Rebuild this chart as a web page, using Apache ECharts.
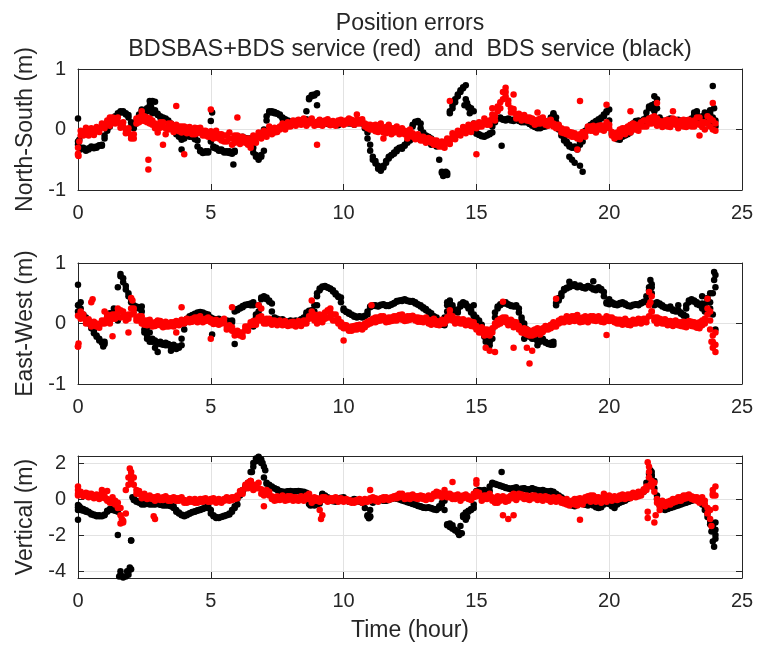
<!DOCTYPE html>
<html><head><meta charset="utf-8">
<script src="https://cdn.jsdelivr.net/npm/echarts@6/dist/echarts.min.js"></script>
<style>html,body{margin:0;padding:0;background:#fff}#c{width:758px;height:646px}</style>
</head><body><div id="c"></div>
<script>
// Sampling times (hours)
const hours = [
0,0.1,0.2,0.3,0.4,0.5,0.6,0.7,0.8,0.9,
1,1.1,1.2,1.3,1.4,1.5,1.6,1.7,1.8,1.9,
2,2.1,2.2,2.3,2.4,2.5,2.6,2.7,2.8,2.9,
3,3.1,3.2,3.3,3.4,3.5,3.6,3.7,3.8,3.9,
4,4.1,4.2,4.3,4.4,4.5,4.6,4.7,4.8,4.9,
5,5.1,5.2,5.3,5.4,5.5,5.6,5.7,5.8,5.9,
6,6.1,6.2,6.3,6.4,6.5,6.6,6.7,6.8,6.9,
7,7.1,7.2,7.3,7.4,7.5,7.6,7.7,7.8,7.9,
8,8.1,8.2,8.3,8.4,8.5,8.6,8.7,8.8,8.9,
9,9.1,9.2,9.3,9.4,9.5,9.6,9.7,9.8,9.9,
10,10.1,10.2,10.3,10.4,10.5,10.6,10.7,10.8,10.9,
11,11.1,11.2,11.3,11.4,11.5,11.6,11.7,11.8,11.9,
12,12.1,12.2,12.3,12.4,12.5,12.6,12.7,12.8,12.9,
13,13.1,13.2,13.3,13.4,13.5,13.6,13.7,13.8,13.9,
14,14.1,14.2,14.3,14.4,14.5,14.6,14.7,14.8,14.9,
15,15.1,15.2,15.3,15.4,15.5,15.6,15.7,15.8,15.9,
16,16.1,16.2,16.3,16.4,16.5,16.6,16.7,16.8,16.9,
17,17.1,17.2,17.3,17.4,17.5,17.6,17.7,17.8,17.9,
18,18.1,18.2,18.3,18.4,18.5,18.6,18.7,18.8,18.9,
19,19.1,19.2,19.3,19.4,19.5,19.6,19.7,19.8,19.9,
20,20.1,20.2,20.3,20.4,20.5,20.6,20.7,20.8,20.9,
21,21.1,21.2,21.3,21.4,21.5,21.6,21.7,21.8,21.9,
22,22.1,22.2,22.3,22.4,22.5,22.6,22.7,22.8,22.9,
23,23.1,23.2,23.3,23.4,23.5,23.6,23.7,23.8,23.9,
24];

// ---------- North-South errors (m) ----------
const nsBlack = [
-0.2,-0.3,-0.32,-0.33,-0.31,-0.3,-0.29,-0.28,-0.27,-0.25,
-0.1,-0.02,0.05,0.12,0.2,0.25,0.28,0.3,0.27,0.24,
0.12,0.02,0.1,0.22,0.3,0.28,0.35,0.4,0.3,0.32,
0.26,0.22,0.2,0.17,0.15,0.05,-0.02,-0.05,-0.1,-0.17,
-0.15,-0.08,-0.12,-0.1,-0.14,-0.18,-0.36,-0.37,-0.38,-0.36,
-0.1,-0.28,-0.3,-0.33,-0.35,-0.36,-0.38,-0.36,-0.4,-0.37,
-0.2,-0.15,-0.12,-0.14,-0.17,-0.15,-0.3,-0.42,-0.48,-0.45,
-0.35,0.15,0.28,0.3,0.29,0.27,0.25,0.2,0.17,0.15,
0.13,0.12,0.14,0.12,0.13,0.15,0.17,0.5,0.55,0.58,
0.6,0.15,0.12,0.14,0.1,0.08,0.12,0.1,0.07,0.1,
0.12,0.14,0.1,0.12,0.08,0.13,0.15,0.12,0.08,-0.05,
-0.25,-0.45,-0.52,-0.6,-0.68,-0.63,-0.55,-0.48,-0.43,-0.4,
-0.36,-0.3,-0.32,-0.27,-0.22,-0.18,0.05,0.12,0.14,0.1,
-0.05,-0.1,-0.12,-0.15,-0.2,-0.22,-0.25,-0.7,-0.73,-0.75,
0.27,0.35,0.45,0.55,0.62,0.68,0.73,0.38,0.35,0.3,
-0.05,-0.08,-0.1,-0.12,-0.1,-0.08,-0.05,0.12,0.18,0.2,
0.17,0.15,0.18,0.16,0.14,0.17,0.15,0.13,0.12,0.14,
0.1,0.08,0.05,0.03,0.02,0.04,0.05,0.08,0.15,0.27,
0.2,0.05,-0.05,-0.15,-0.2,-0.25,-0.3,-0.28,-0.33,-0.25,
-0.2,-0.05,0.02,0.05,0.1,0.12,0.15,0.18,0.22,0.28,
0.33,-0.05,-0.1,-0.15,-0.17,-0.12,-0.1,-0.08,-0.05,0.08,
0.12,0.15,0.1,0.14,0.2,0.35,0.4,0.3,0.5,0.2,
0.15,0.12,0.15,0.18,0.1,0.12,0.16,0.1,0.13,0.15,
0.12,0.1,0.25,0.3,0.2,0.15,0.28,0.1,0.32,0.2,
0.05];
const nsBlack2 = [
-0.25,-0.33,-0.3,-0.35,-0.33,-0.28,-0.31,-0.3,-0.26,-0.27,
-0.15,0.0,0.08,0.15,0.22,0.27,0.3,0.28,0.25,0.2,
0.05,0.06,0.15,0.25,0.33,0.24,0.3,0.35,0.27,0.28,
0.24,0.2,0.18,0.18,0.12,0.1,0.0,-0.08,-0.12,-0.15,
-0.12,-0.1,-0.1,-0.12,-0.16,-0.28,-0.34,-0.39,-0.36,-0.38,
-0.2,-0.3,-0.32,-0.35,-0.33,-0.38,-0.36,-0.39,-0.38,-0.35,
-0.17,-0.13,-0.14,-0.16,-0.15,-0.22,-0.38,-0.45,-0.5,-0.42,
0.0,0.22,0.3,0.28,0.27,0.26,0.23,0.18,0.16,0.14,
0.12,0.13,0.12,0.14,0.15,0.16,0.3,0.52,0.57,0.56,
0.4,0.13,0.13,0.12,0.09,0.1,0.11,0.08,0.09,0.11,
0.13,0.12,0.11,0.1,0.1,0.14,0.13,0.1,0.02,-0.15,
-0.35,-0.5,-0.56,-0.65,-0.66,-0.6,-0.52,-0.45,-0.42,-0.38,
-0.33,-0.31,-0.29,-0.25,-0.2,-0.1,0.08,0.13,0.12,0.02,
-0.08,-0.11,-0.14,-0.18,-0.21,-0.24,-0.5,-0.72,-0.74,-0.72,
0.3,0.4,0.5,0.58,0.65,0.7,0.5,0.36,0.32,0.1,
-0.07,-0.09,-0.11,-0.11,-0.09,-0.06,0.05,0.15,0.19,0.18,
0.16,0.17,0.17,0.15,0.16,0.16,0.14,0.12,0.13,0.12,
0.09,0.06,0.04,0.02,0.03,0.05,0.06,0.12,0.2,0.25,
0.12,0.0,-0.1,-0.18,-0.23,-0.28,-0.29,-0.3,-0.3,-0.22,
-0.12,-0.02,0.04,0.08,0.11,0.14,0.17,0.2,0.25,0.3,
0.15,-0.08,-0.12,-0.16,-0.15,-0.11,-0.09,-0.06,0.02,0.1,
0.14,0.12,0.12,0.17,0.28,0.38,0.35,0.42,0.35,0.17,
0.13,0.14,0.16,0.14,0.11,0.14,0.13,0.12,0.14,0.13,
0.11,0.18,0.28,0.25,0.18,0.22,0.2,0.25,0.26,0.1,
0.15];
const nsBlackExtra = [[0,0.18],[0.05,-0.17],[2.7,0.47],[2.8,0.47],[2.9,0.46],[2.75,0.38],[3.9,-0.33],[5.0,0.14],[5.05,0.28],
[5.85,-0.58],[13.75,-0.77],[13.85,-0.7],[13.5,-0.28],[13.3,-0.25],[14.55,0.4],[14.65,0.44],[14.75,0.27],[15.95,-0.27],
[18.5,-0.45],[18.6,-0.5],[18.7,-0.55],[18.9,-0.6],[19.0,-0.7],[21.7,0.55],[23.8,0.3],[23.9,0.72],[23.95,0.35]];
const nsRed = [
-0.3,-0.1,-0.05,-0.02,-0.05,-0.03,-0.05,0.0,0.02,0.05,
0.08,0.1,0.12,0.15,0.18,0.12,0.1,0.05,0.0,-0.05,
-0.1,-0.15,0.1,0.2,0.15,0.22,0.12,0.18,0.08,0.1,
-0.05,0.12,0.05,-0.08,0.1,0.02,0.05,0.0,-0.03,0.05,
-0.02,0.03,-0.05,0.0,-0.08,0.02,-0.05,-0.02,-0.1,-0.05,
-0.12,-0.05,-0.1,-0.15,-0.08,-0.2,-0.1,-0.15,-0.25,-0.1,
-0.18,-0.12,-0.2,-0.22,-0.15,-0.25,-0.18,-0.15,-0.12,-0.08,
-0.1,-0.05,-0.02,0.0,-0.05,0.02,0.05,0.03,0.08,0.05,
0.1,0.08,0.12,0.1,0.14,0.12,0.1,0.15,0.12,0.1,
0.13,0.08,0.12,0.15,0.1,0.13,0.08,0.12,0.15,0.1,
0.14,0.1,0.12,0.16,0.13,0.1,0.15,0.12,0.05,0.02,
0.08,0.0,-0.03,0.05,0.02,-0.05,0.04,0.0,-0.08,0.02,
-0.02,0.0,-0.05,-0.08,-0.1,-0.05,-0.12,-0.1,-0.15,-0.12,
-0.18,-0.15,-0.2,-0.22,-0.18,-0.25,-0.22,-0.28,-0.25,-0.2,
-0.18,-0.12,-0.1,-0.08,-0.05,-0.02,0.0,0.03,0.02,0.05,
0.08,0.05,0.1,0.12,0.08,0.15,0.18,0.22,0.3,0.45,
0.62,0.55,0.42,0.35,0.28,0.25,0.2,0.22,0.18,0.15,
0.2,0.12,0.15,0.1,0.18,0.12,0.08,0.14,0.1,0.05,
0.08,0.02,-0.05,0.0,-0.08,-0.1,-0.05,-0.12,-0.15,-0.08,
-0.1,-0.05,0.0,0.05,-0.02,0.03,0.06,0.0,0.05,0.08,
0.02,-0.1,-0.15,-0.05,-0.12,0.02,-0.08,0.05,-0.05,0.1,
0.0,0.08,0.12,0.05,0.15,0.1,0.2,0.12,0.18,0.08,
0.1,0.15,0.05,0.12,0.18,0.08,0.1,0.15,0.05,0.12,
0.1,0.05,0.15,0.2,0.08,0.12,0.0,0.22,0.05,0.15,
-0.02];
const nsRed2 = [
-0.42,-0.02,-0.1,0.03,-0.1,0.02,-0.09,0.04,-0.04,0.1,
0.02,0.15,0.06,0.2,0.1,0.2,0.03,0.12,-0.06,0.02,
-0.15,-0.08,0.18,0.12,0.24,0.14,0.2,0.1,0.15,0.02,
0.05,0.03,0.12,0.02,0.0,0.1,-0.04,0.08,0.05,-0.05,
0.05,-0.06,0.04,-0.08,0.03,-0.06,0.03,-0.1,-0.02,-0.12,
-0.03,-0.15,-0.02,-0.08,-0.18,-0.1,-0.2,-0.05,-0.15,-0.22,
-0.1,-0.24,-0.12,-0.15,-0.25,-0.18,-0.1,-0.22,-0.05,-0.15,
-0.02,-0.12,0.05,-0.08,0.03,-0.04,0.0,0.1,0.0,0.12,
0.05,0.15,0.06,0.16,0.08,0.18,0.06,0.1,0.18,0.06,
0.08,0.16,0.06,0.1,0.17,0.07,0.14,0.06,0.1,0.16,
0.08,0.15,0.18,0.1,0.08,0.16,0.1,0.17,0.1,0.08,
0.0,0.06,0.08,-0.04,0.1,0.03,-0.06,0.08,0.02,-0.05,
0.05,-0.08,0.02,-0.02,-0.15,0.0,-0.06,-0.16,-0.08,-0.18,
-0.12,-0.22,-0.14,-0.16,-0.25,-0.18,-0.28,-0.2,-0.3,-0.15,
-0.24,-0.06,-0.16,-0.02,-0.1,0.04,-0.06,0.08,-0.04,0.1,
0.02,0.12,0.05,0.18,0.14,0.08,0.25,0.15,0.38,0.35,
0.5,0.62,0.48,0.28,0.34,0.18,0.26,0.15,0.24,0.2,
0.14,0.18,0.08,0.16,0.1,0.2,0.14,0.06,0.16,0.1,
0.02,0.08,0.02,-0.06,0.0,-0.04,-0.12,-0.06,-0.1,-0.16,
-0.04,-0.12,0.05,-0.02,0.06,-0.05,0.0,0.07,-0.02,0.12,
0.08,-0.04,-0.08,-0.12,0.0,-0.06,0.02,-0.02,0.08,0.0,
0.08,-0.02,0.05,0.15,0.05,0.18,0.1,0.22,0.06,0.14,
0.04,0.08,0.16,0.04,0.1,0.16,0.02,0.08,0.16,0.04,
0.16,0.12,0.05,0.1,0.2,0.04,0.12,0.1,0.18,0.0,
0.1];
const nsRedExtra = [[0,-0.4],[0.02,-0.44],[0.05,-0.2],[1.2,0.2],[2.4,0.3],[2.65,-0.5],[2.65,-0.66],[3.2,-0.25],[3.7,0.39],
[4.0,-0.41],[5.0,0.33],[6.0,0.2],[6.5,-0.3],[9.0,-0.25],[10.5,0.25],[11.5,-0.15],[14.0,0.47],[15.0,-0.41],[15.6,0.35],
[16.1,0.69],[16.4,0.58],[17.3,0.28],[18.8,-0.33],[18.9,0.47],[19.9,0.41],[20.8,0.3],[21.8,0.44],[22.4,0.3],[23.4,-0.1],[23.9,0.44]];

// ---------- East-West errors (m) ----------
const ewBlack = [
0.2,0.35,0.15,0.1,0.05,-0.05,-0.12,-0.2,-0.25,-0.3,
-0.34,0.15,0.17,0.13,0.19,0.05,0.82,0.75,0.62,0.5,
0.4,0.3,0.28,0.25,0.28,-0.15,-0.2,-0.3,-0.25,-0.28,
-0.33,-0.3,-0.35,-0.32,-0.36,-0.38,-0.35,-0.42,-0.38,-0.36,
-0.1,0.05,0.1,0.13,0.15,0.17,0.19,0.18,0.16,0.15,
0.1,0.08,0.05,0.08,0.05,0.02,0.05,0.03,0.05,-0.34,
0.22,0.25,0.27,0.3,0.32,0.3,0.35,0.1,0.2,0.4,
0.45,0.43,0.38,0.33,0.1,0.08,0.05,0.07,0.04,0.02,
0.05,0.03,0.05,0.02,0.06,0.08,0.15,0.2,0.22,0.2,
0.45,0.55,0.6,0.62,0.6,0.58,0.55,0.5,0.45,0.43,
0.25,0.2,0.18,0.15,0.13,0.1,0.12,0.1,0.12,0.15,
0.27,0.3,0.3,0.28,0.3,0.32,0.3,0.29,0.31,0.33,
0.36,0.38,0.37,0.4,0.38,0.36,0.37,0.35,0.32,0.3,
0.27,0.24,0.2,0.17,0.12,0.1,0.05,0.0,-0.03,0.2,
0.38,0.3,0.22,0.18,0.28,0.35,0.33,0.28,0.22,0.15,
0.1,0.05,-0.02,-0.2,-0.25,-0.3,-0.25,0.1,0.25,0.3,
0.33,0.35,0.32,0.3,0.28,0.3,0.25,0.1,0.0,-0.1,
-0.2,-0.25,-0.22,-0.28,-0.3,-0.25,-0.3,-0.33,-0.35,-0.3,
0.3,0.38,0.45,0.55,0.58,0.6,0.62,0.65,0.6,0.63,
0.6,0.58,0.62,0.6,0.58,0.55,0.6,0.57,0.52,0.35,
0.32,0.35,0.33,0.3,0.32,0.35,0.33,0.3,0.28,0.3,
0.32,0.3,0.33,0.35,0.38,0.55,0.65,0.3,0.35,0.33,
0.3,0.27,0.25,0.28,0.23,0.2,0.22,0.18,0.15,0.12,
0.35,0.4,0.38,0.35,0.3,0.33,0.2,0.42,0.35,0.15,
0.8];
const ewBlack2 = [
0.3,0.25,0.12,0.07,0.0,-0.08,-0.16,-0.22,-0.28,-0.32,
-0.3,0.12,0.15,0.17,0.15,0.6,0.78,0.68,0.56,0.45,
0.35,0.28,0.26,0.27,0.2,-0.1,-0.25,-0.27,-0.3,-0.3,
-0.31,-0.34,-0.33,-0.36,-0.34,-0.36,-0.4,-0.38,-0.4,-0.25,
0.0,0.08,0.12,0.14,0.16,0.18,0.18,0.17,0.15,0.12,
0.09,0.06,0.07,0.06,0.04,0.04,0.04,0.04,0.02,0.2,
0.24,0.26,0.29,0.31,0.31,0.33,0.3,0.15,0.3,0.43,
0.44,0.4,0.36,0.2,0.09,0.06,0.06,0.05,0.03,0.03,
0.04,0.04,0.03,0.04,0.07,0.1,0.18,0.21,0.21,0.3,
0.5,0.58,0.61,0.61,0.59,0.57,0.53,0.48,0.44,0.35,
0.22,0.19,0.16,0.14,0.11,0.11,0.11,0.11,0.13,0.2,
0.28,0.29,0.29,0.29,0.31,0.31,0.29,0.3,0.32,0.34,
0.37,0.37,0.39,0.39,0.37,0.37,0.36,0.33,0.31,0.28,
0.25,0.22,0.19,0.14,0.11,0.07,0.02,-0.02,0.1,0.3,
0.34,0.26,0.2,0.23,0.32,0.34,0.3,0.25,0.18,0.12,
0.07,0.02,-0.1,-0.22,-0.28,-0.28,-0.1,0.18,0.28,0.32,
0.34,0.33,0.31,0.29,0.29,0.28,0.18,0.05,-0.05,-0.15,
-0.22,-0.24,-0.25,-0.29,-0.28,-0.28,-0.32,-0.34,-0.32,0.0,
0.34,0.42,0.5,0.57,0.59,0.61,0.64,0.62,0.62,0.61,
0.59,0.6,0.61,0.59,0.56,0.58,0.58,0.55,0.45,0.33,
0.34,0.34,0.31,0.31,0.34,0.34,0.31,0.29,0.29,0.31,
0.31,0.32,0.34,0.36,0.45,0.6,0.5,0.33,0.34,0.31,
0.28,0.26,0.26,0.25,0.21,0.21,0.2,0.16,0.13,0.25,
0.38,0.39,0.36,0.32,0.31,0.25,0.3,0.38,0.25,0.5,
0.6];
const ewBlackExtra = [[0,0.64],[0.02,0.3],[0.95,-0.38],[1.35,0.25],[2.6,-0.06],[2.7,-0.15],[2.9,-0.4],[3.0,-0.47],[3.5,-0.45],
[5.05,-0.18],[6.6,-0.05],[9.0,0.3],[13.9,0.35],[14.9,0.3],[15.35,-0.3],[15.5,-0.36],[16.8,-0.25],[17.3,-0.36],[17.9,-0.35],
[18.5,0.69],[19.4,0.7],[20.0,0.4],[21.55,0.72],[21.6,0.6],[22.6,0.3],[22.9,0.3],[23.5,0.45],[23.8,0.5],[23.95,0.85],[23.95,0.72],[24.0,-0.1]];
const ewRed = [
0.13,0.2,0.1,0.05,0.02,0.0,-0.03,-0.05,-0.02,0.0,
0.05,0.1,0.0,0.08,0.15,0.25,0.1,0.2,0.05,0.15,
0.25,0.18,0.1,0.05,0.12,-0.02,0.05,0.0,-0.05,0.02,
0.05,-0.03,0.0,-0.05,0.0,-0.04,0.02,-0.02,0.03,0.0,
0.05,0.03,0.06,0.08,0.05,0.1,0.07,0.05,0.08,0.05,
0.02,0.05,0.0,0.03,0.05,0.02,-0.05,-0.08,-0.12,-0.15,
-0.18,-0.2,-0.15,-0.1,-0.05,0.02,-0.02,0.05,0.1,0.05,
0.0,0.08,0.02,0.05,0.0,0.03,0.0,0.02,-0.02,0.0,
0.02,-0.03,0.0,-0.02,0.02,0.0,0.05,0.12,0.2,0.05,
0.1,0.15,0.02,0.18,0.22,0.1,0.05,0.15,0.0,-0.05,
-0.02,-0.08,-0.12,-0.05,-0.1,-0.03,-0.08,-0.05,0.0,-0.02,
0.05,0.08,0.02,0.1,0.05,0.12,0.08,0.03,0.1,0.05,
0.12,0.08,0.15,0.1,0.05,0.12,0.08,0.05,0.1,0.03,
0.08,0.05,0.0,0.04,0.02,-0.02,0.03,0.0,0.05,0.1,
0.15,0.05,0.08,0.02,0.06,0.0,0.04,-0.02,0.03,-0.05,
-0.1,-0.08,-0.15,-0.1,-0.18,-0.12,-0.08,-0.05,0.05,0.0,
0.1,0.02,0.05,-0.02,0.03,-0.05,-0.1,-0.15,-0.08,-0.18,
-0.12,-0.2,-0.1,-0.15,-0.12,-0.08,-0.1,-0.05,-0.02,-0.05,
0.0,0.05,0.02,0.08,0.05,0.1,0.05,0.12,0.08,0.02,
0.1,0.05,0.08,0.12,0.05,0.1,0.07,0.03,0.08,0.05,
0.1,0.05,0.02,0.06,0.0,0.04,0.02,-0.02,0.03,0.0,
0.05,0.02,0.06,0.03,0.08,0.3,0.45,0.05,0.1,0.02,
0.06,0.0,0.04,-0.02,0.03,0.0,-0.03,0.02,-0.05,0.0,
-0.02,0.03,-0.05,0.0,-0.08,0.05,0.0,0.15,-0.1,-0.2,
-0.35];
const ewRed2 = [
-0.38,0.08,0.15,0.0,0.07,-0.05,0.03,0.0,-0.07,0.05,
0.0,0.15,0.05,0.15,0.08,0.18,0.22,0.12,0.12,0.08,
0.15,0.25,0.05,0.12,0.0,0.05,-0.03,0.06,0.0,-0.04,
-0.02,0.04,-0.06,0.03,-0.05,0.02,-0.05,0.04,-0.03,0.06,
0.0,0.08,0.02,0.03,0.1,0.02,0.12,0.02,0.04,0.1,
0.07,-0.01,0.06,-0.02,0.0,0.08,-0.1,-0.03,-0.06,-0.2,
-0.12,-0.15,-0.22,-0.05,-0.12,-0.03,0.04,-0.02,0.05,0.12,
0.05,0.0,0.08,-0.02,0.05,-0.03,0.05,-0.03,0.04,-0.04,
-0.03,0.03,-0.05,0.04,-0.04,0.05,0.0,0.08,0.1,0.15,
0.0,0.05,0.12,0.08,0.1,0.18,0.15,0.05,0.08,0.02,
-0.08,-0.03,-0.06,-0.12,-0.04,-0.1,-0.02,-0.1,-0.06,0.03,
0.0,0.02,0.1,0.04,0.12,0.06,0.02,0.1,0.04,0.12,
0.05,0.14,0.06,0.04,0.12,0.06,0.13,0.1,0.03,0.09,
0.02,0.1,0.06,-0.02,0.08,0.04,-0.03,0.06,0.0,0.05,
0.08,0.12,0.0,0.08,0.0,0.07,-0.03,0.05,-0.04,0.02,
-0.04,-0.15,-0.06,-0.2,-0.1,-0.2,-0.15,0.0,-0.02,0.08,
0.04,0.1,-0.03,0.06,-0.06,0.02,-0.04,-0.1,-0.16,-0.1,
-0.2,-0.12,-0.18,-0.08,-0.18,-0.14,-0.04,-0.1,-0.08,0.02,
-0.05,0.0,0.08,0.02,0.12,0.03,0.12,0.04,0.14,0.08,
0.03,0.12,0.02,0.06,0.12,0.04,0.12,0.08,0.02,0.12,
0.04,0.1,0.07,0.0,0.06,-0.02,0.08,0.04,-0.03,0.06,
0.0,0.08,0.0,0.08,0.02,0.12,0.2,0.1,0.0,0.08,
0.0,0.07,-0.03,0.04,-0.04,0.05,0.02,-0.04,0.03,-0.06,
0.04,-0.04,0.02,-0.07,0.02,-0.03,0.08,0.25,0.05,-0.3,
-0.15];
const ewRedExtra = [[0,-0.38],[0.02,-0.33],[0.5,0.35],[0.55,0.4],[1.0,0.2],[1.3,-0.21],[1.9,-0.15],[2.0,0.42],[2.05,0.38],
[3.7,-0.15],[3.9,0.27],[5.0,-0.25],[5.8,0.27],[6.8,0.3],[6.9,0.25],[8.8,0.38],[9.5,0.25],[10.0,-0.28],[11.05,0.3],[14.0,0.22],
[15.35,-0.4],[15.5,-0.45],[15.7,-0.47],[16.0,0.36],[16.4,-0.4],[16.9,-0.4],[17.0,-0.66],[17.1,-0.45],[18.0,0.41],[19.9,-0.19],
[21.5,0.52],[21.55,0.35],[21.6,0.2],[23.7,0.41],[23.8,0.2],[23.85,-0.3],[23.9,-0.4],[24.0,-0.47]];

// ---------- Vertical errors (m) ----------
const vBlack = [
-0.6,-0.5,-0.55,-0.62,-0.7,-0.8,-0.85,-0.9,-0.95,-0.92,
-0.9,-0.7,-0.6,-0.55,-0.62,-0.7,-4.0,-4.3,-4.4,-4.2,
-3.9,0.05,-0.1,-0.15,-0.25,-0.3,-0.2,-0.25,-0.3,-0.28,
-0.22,-0.3,-0.35,-0.32,-0.3,-0.38,-0.4,-0.6,-0.75,-0.85,
-0.95,-0.9,-0.82,-0.75,-0.7,-0.65,-0.6,-0.55,-0.5,-0.4,
-0.6,-0.9,-1.0,-1.05,-1.0,-0.95,-0.9,-0.85,-0.7,-0.5,
-0.3,0.2,0.4,0.6,0.8,1.0,1.8,2.1,2.35,2.2,
1.8,0.9,0.8,0.7,0.6,0.55,0.45,0.4,0.38,0.42,
0.45,0.4,0.43,0.45,0.42,0.4,0.35,-0.25,-0.3,-0.35,
-0.3,-0.25,0.3,0.2,0.1,0.0,-0.1,-0.15,-0.05,0.05,
0.1,-0.05,-0.15,-0.1,0.0,-0.05,-0.1,-0.2,-0.15,-0.9,
-1.0,-0.2,-0.1,-0.05,0.0,-0.08,-0.1,-0.05,0.0,0.05,
0.05,0.0,-0.05,-0.1,-0.15,-0.2,-0.25,-0.3,-0.35,-0.4,
-0.45,-0.5,-0.45,-0.5,-0.55,-0.6,-0.5,-0.3,-0.1,-1.4,
-1.5,-1.6,-1.7,-1.8,-1.9,-1.0,-0.8,-0.7,-0.6,-0.5,
0.4,0.5,0.45,0.5,0.4,0.45,0.9,0.85,0.8,0.75,
0.7,0.65,0.6,0.55,0.6,0.65,0.5,0.55,0.6,0.55,
0.5,0.6,0.55,0.5,0.45,0.5,0.45,0.4,0.45,0.4,
0.3,0.2,0.1,0.0,-0.1,-0.2,-0.3,-0.4,-0.3,-0.25,
-0.2,-0.3,-0.35,-0.25,-0.3,-0.4,-0.5,-0.45,-0.3,-0.2,
-0.25,-0.3,-0.5,-0.3,-0.2,-0.15,-0.1,0.0,0.1,0.15,
0.2,0.25,0.3,0.4,0.6,1.2,1.5,1.0,0.2,-0.2,
-0.5,-0.6,-0.55,-0.5,-0.45,-0.4,-0.35,-0.3,-0.25,-0.2,
-0.15,-0.1,-0.05,0.0,-0.1,-0.2,-0.4,-0.8,-1.2,-1.5,
-1.7];
const vBlack2 = [
-0.45,-0.6,-0.65,-0.7,-0.75,-0.85,-0.9,-0.95,-0.9,-0.95,
-0.85,-0.65,-0.55,-0.6,-0.65,-2.0,-4.2,-4.35,-4.3,-4.0,
-2.3,-0.05,-0.15,-0.2,-0.3,-0.25,-0.25,-0.3,-0.25,-0.3,
-0.28,-0.32,-0.3,-0.35,-0.35,-0.4,-0.5,-0.7,-0.8,-0.9,
-0.92,-0.85,-0.78,-0.72,-0.68,-0.62,-0.58,-0.52,-0.45,-0.5,
-0.8,-0.95,-1.05,-1.02,-0.98,-0.92,-0.88,-0.8,-0.6,-0.4,
0.0,0.3,0.5,0.7,0.9,1.5,2.0,2.25,2.3,2.0,
1.2,0.85,0.75,0.65,0.58,0.5,0.42,0.4,0.4,0.44,
0.42,0.42,0.44,0.43,0.41,0.38,0.1,-0.28,-0.33,-0.32,
-0.28,0.0,0.25,0.15,0.05,-0.05,-0.12,-0.1,0.0,0.08,
0.05,-0.1,-0.12,-0.05,-0.02,-0.08,-0.15,-0.18,-0.5,-0.95,
-0.6,-0.15,-0.08,-0.02,-0.04,-0.09,-0.08,-0.02,0.02,0.08,
0.02,-0.02,-0.08,-0.12,-0.18,-0.22,-0.28,-0.32,-0.38,-0.42,
-0.48,-0.48,-0.48,-0.52,-0.58,-0.55,-0.4,-0.2,-0.6,-1.45,
-1.55,-1.65,-1.75,-1.85,-1.5,-0.9,-0.75,-0.65,-0.55,-0.3,
0.45,0.48,0.48,0.45,0.42,0.7,0.88,0.82,0.78,0.72,
0.68,0.62,0.58,0.58,0.62,0.58,0.52,0.58,0.58,0.52,
0.55,0.58,0.52,0.48,0.48,0.48,0.42,0.42,0.42,0.35,
0.25,0.15,0.05,-0.05,-0.15,-0.25,-0.35,-0.35,-0.28,-0.22,
-0.25,-0.32,-0.3,-0.28,-0.35,-0.45,-0.48,-0.38,-0.25,-0.22,
-0.28,-0.4,-0.4,-0.25,-0.18,-0.12,-0.05,0.05,0.12,0.18,
0.22,0.28,0.35,0.5,0.9,1.4,1.3,0.6,0.0,-0.35,
-0.55,-0.58,-0.52,-0.48,-0.42,-0.38,-0.32,-0.28,-0.22,-0.18,
-0.12,-0.08,-0.02,-0.05,-0.15,-0.3,-0.6,-1.0,-1.4,-1.6,
-2.2];
const vBlackExtra = [[0,-1.15],[0,-0.33],[0.05,-0.4],[1.55,-4.3],[1.65,-4.45],[1.75,-4.4],[1.85,-4.0],[1.95,-3.8],[2.0,-2.3],
[2.05,0.1],[6.55,1.5],[6.75,2.4],[6.95,2.0],[7.05,1.6],[8.75,-0.35],[10.95,-1.07],[11.0,-0.95],[14.0,-1.35],[14.1,-1.45],
[14.35,-2.0],[14.45,-1.9],[14.6,-1.15],[14.65,-1.0],[15.95,1.5],[21.55,1.6],[21.6,1.3],[23.85,-1.8],[23.9,-2.35],[23.95,-2.65],
[24.0,-2.0],[24.0,-1.3]];
const vRed = [
0.5,0.3,0.25,0.2,0.3,0.15,0.2,0.1,0.15,0.35,
0.05,-0.1,-0.05,-0.2,-0.3,-0.5,-0.9,-1.2,-0.8,1.2,
1.5,0.8,0.5,0.3,0.2,0.1,0.15,0.05,0.0,0.1,
0.05,-0.05,0.1,0.0,0.05,-0.1,0.0,0.05,-0.1,-0.05,
-0.2,-0.1,-0.15,-0.05,-0.2,-0.1,-0.15,0.0,-0.1,-0.05,
0.0,-0.1,-0.2,-0.15,-0.1,0.0,-0.05,0.05,-0.05,0.1,
0.2,0.3,0.5,0.6,0.9,0.7,0.5,0.8,0.6,0.3,
0.4,0.5,0.2,0.0,0.1,-0.05,0.1,0.05,-0.1,0.15,
0.0,0.1,-0.05,0.05,0.15,-0.1,0.0,0.3,-0.2,0.1,
-0.1,0.0,0.1,-0.05,0.0,-0.1,0.05,-0.05,-0.15,-0.1,
-0.05,-0.1,-0.15,-0.2,-0.1,-0.05,-0.1,-0.2,-0.15,-0.05,
0.05,0.0,-0.1,-0.05,0.05,0.1,0.0,-0.05,0.1,0.15,
0.2,0.3,0.15,0.1,0.05,0.2,0.1,0.05,0.15,0.05,
0.0,0.1,0.05,0.15,0.3,0.4,0.2,0.1,0.5,0.3,
0.1,0.2,0.0,0.1,0.05,0.2,0.1,0.0,0.1,0.3,
0.4,0.2,0.1,0.0,0.2,0.1,-0.1,0.0,-0.2,0.1,
0.0,-0.15,0.1,0.2,0.05,0.2,0.3,0.1,0.2,0.0,
0.1,0.2,0.05,0.1,0.0,0.1,0.05,-0.05,0.0,-0.1,
0.0,-0.1,-0.2,-0.1,-0.3,-0.2,-0.1,-0.3,0.0,-0.2,
-0.1,0.1,-0.05,0.2,0.0,0.1,-0.1,0.05,0.3,0.0,
0.1,-0.1,0.0,0.1,0.2,0.05,0.15,0.1,0.25,0.2,
0.3,0.15,0.35,0.4,0.5,1.5,1.0,0.4,-0.2,-0.4,
-0.3,-0.2,-0.3,-0.1,-0.2,0.0,-0.1,0.1,0.0,0.2,
0.1,0.0,0.1,-0.1,-0.2,0.1,-0.3,-0.8,-1.1,0.5,
0.7];
const vRed2 = [
0.3,0.4,0.15,0.35,0.1,0.3,0.05,0.25,0.0,0.2,
0.15,0.0,-0.2,0.1,-0.1,-0.2,-0.5,-1.3,0.5,0.8,
1.0,1.2,0.3,0.45,0.05,0.3,0.0,0.2,0.1,-0.1,
0.15,0.05,-0.05,0.15,-0.1,0.05,0.1,-0.1,0.05,0.1,
-0.05,-0.2,0.0,-0.15,0.0,-0.2,0.0,-0.15,0.05,-0.15,
-0.15,0.05,-0.05,0.0,-0.2,-0.1,0.1,-0.1,0.1,0.0,
0.05,0.45,0.3,0.8,0.6,1.0,0.8,0.6,0.9,0.55,
0.2,0.3,0.4,0.15,-0.1,0.15,-0.05,0.2,0.05,-0.05,
0.15,-0.1,0.1,-0.1,0.0,0.1,0.2,0.0,0.05,-0.1,
0.05,-0.15,-0.05,0.1,-0.15,0.05,-0.1,0.1,0.0,0.05,
-0.15,0.0,-0.05,-0.1,-0.2,-0.15,0.0,-0.1,0.0,-0.15,
-0.1,0.1,0.05,-0.15,0.0,-0.05,0.1,0.05,0.0,0.05,
0.05,0.1,0.3,0.0,0.2,0.0,0.25,0.15,0.0,0.2,
0.15,-0.05,0.2,0.0,0.15,0.2,0.35,0.25,0.2,0.1,
0.3,0.0,0.2,0.25,-0.1,0.05,0.25,0.15,-0.05,0.1,
0.15,0.35,-0.1,0.2,0.0,0.3,0.1,-0.2,0.15,-0.1,
0.15,0.05,-0.1,0.05,0.3,-0.05,0.1,0.25,0.0,0.2,
-0.05,0.05,0.2,-0.05,0.15,-0.1,0.15,0.1,-0.15,0.1,
-0.15,0.1,0.0,-0.25,0.0,-0.35,-0.25,0.0,-0.35,0.05,
-0.3,-0.1,0.15,-0.15,0.2,-0.15,0.1,-0.2,0.1,-0.15,
0.2,0.05,0.15,-0.05,0.0,0.25,0.0,0.25,0.05,0.35,
0.1,0.4,0.2,0.55,0.7,1.2,0.7,0.9,0.0,-0.6,
-0.1,-0.4,-0.15,-0.3,0.0,-0.15,0.1,-0.1,0.2,0.05,
0.25,0.15,-0.05,0.1,0.0,-0.1,-0.1,-0.5,-0.6,0.3,
0.2];
const vRedExtra = [[0,0.7],[0,0.2],[0.9,0.5],[1.1,0.45],[1.6,-1.35],[1.65,-1.1],[1.95,1.7],[2.0,1.3],[2.85,-0.95],[2.9,-1.1],
[6.5,1.0],[7.0,-0.4],[9.1,-0.6],[9.15,-1.1],[9.2,-0.9],[11.0,0.5],[14.1,0.95],[15.0,1.05],[15.0,0.85],[16.0,-0.9],[16.2,-1.1],
[16.4,-0.9],[18.9,-1.15],[21.45,2.05],[21.5,1.8],[21.55,0.8],[21.45,-0.7],[21.45,-1.05],[21.7,-1.3],[21.75,-0.9],[23.85,-1.5],
[23.9,0.2],[24.0,-0.5]];

// Panel descriptions
const panelNames = ['North-South (m)', 'East-West (m)', 'Vertical (m)'];
const xTicks = {min: 0, max: 25, interval: 5};
const yScales = [
  {min: -1, max: 1, interval: 1},
  {min: -1, max: 1, interval: 1},
  {min: -4.38, max: 2.39, splitNumber: 3}
];
const panelData = [
  [nsBlack, nsBlack2, nsBlackExtra, nsRed, nsRed2, nsRedExtra],
  [ewBlack, ewBlack2, ewBlackExtra, ewRed, ewRed2, ewRedExtra],
  [vBlack, vBlack2, vBlackExtra, vRed, vRed2, vRedExtra]
];

const FONT = "'Liberation Sans', Arial, Helvetica, sans-serif";
const AX = '#262626';
const GL = '#e2e2e2';
const grids = [
  {left: 78, top: 69, width: 664, height: 121},
  {left: 78, top: 263, width: 664, height: 121},
  {left: 78, top: 456, width: 664, height: 122}
];

const xAxes = [], yAxes = [], series = [], graphics = [];
grids.forEach((g, gi) => {
  xAxes.push({
    gridIndex: gi, type: 'value', position: 'bottom', min: xTicks.min, max: xTicks.max, interval: xTicks.interval,
    axisLine: {show: true, onZero: false, lineStyle: {color: AX, width: 1}},
    axisTick: {show: true, inside: true, length: 6, lineStyle: {color: AX}},
    axisLabel: {show: true, margin: 13, fontSize: 20, fontFamily: FONT, color: AX},
    splitLine: {show: true, lineStyle: {color: GL, width: 1}}
  });
  xAxes.push({
    gridIndex: gi, type: 'value', position: 'top', min: xTicks.min, max: xTicks.max, interval: xTicks.interval,
    axisLine: {show: true, onZero: false, lineStyle: {color: AX, width: 1}},
    axisTick: {show: true, inside: true, length: 6, lineStyle: {color: AX}},
    axisLabel: {show: false}, splitLine: {show: false}
  });
  const ys = yScales[gi];
  yAxes.push(Object.assign({
    gridIndex: gi, type: 'value', position: 'left',
    axisLine: {show: true, onZero: false, lineStyle: {color: AX, width: 1}},
    axisTick: {show: true, inside: true, length: 6, lineStyle: {color: AX}},
    axisLabel: {show: true, margin: 12, fontSize: 20, fontFamily: FONT, color: AX, showMinLabel: gi < 2, showMaxLabel: gi < 2},
    splitLine: {show: true, lineStyle: {color: GL, width: 1}}
  }, ys));
  yAxes.push(Object.assign({
    gridIndex: gi, type: 'value', position: 'right',
    axisLine: {show: true, onZero: false, lineStyle: {color: AX, width: 1}},
    axisTick: {show: true, inside: true, length: 6, lineStyle: {color: AX}},
    axisLabel: {show: false}, splitLine: {show: false}
  }, ys));
  const [bMain, bMain2, bExtra, rMain, rMain2, rExtra] = panelData[gi];
  const mk = (data, color) => ({
    type: 'scatter', xAxisIndex: gi * 2, yAxisIndex: gi * 2, data: data,
    symbol: 'circle', symbolSize: 6.5, itemStyle: {color: color, opacity: 1}, silent: true, z: 3
  });
  series.push(mk(hours.map((t, i) => [t, bMain[i]]), '#000000'));
  series.push(mk(hours.map((t, i) => [t, bMain2[i]]), '#000000'));
  series.push(mk(bExtra, '#000000'));
  series.push(mk(hours.map((t, i) => [t, rMain[i]]), '#ff0000'));
  series.push(mk(hours.map((t, i) => [t, rMain2[i]]), '#ff0000'));
  series.push(mk(rExtra, '#ff0000'));
  graphics.push({
    type: 'text', x: 26, y: g.top + g.height / 2, rotation: Math.PI / 2,
    style: {text: panelNames[gi], fontSize: 23, fontFamily: FONT, fill: AX, align: 'center', verticalAlign: 'middle'}
  });
});
graphics.push({type: 'text', x: 410, y: 23.5, style: {text: 'Position errors', fontSize: 23, fontFamily: FONT, fill: AX, align: 'center', verticalAlign: 'middle'}});
graphics.push({type: 'text', x: 410, y: 50, style: {text: 'BDSBAS+BDS service (red)  and  BDS service (black)', fontSize: 23.4, fontFamily: FONT, fill: AX, align: 'center', verticalAlign: 'middle'}});
graphics.push({type: 'text', x: 410, y: 631, style: {text: 'Time (hour)', fontSize: 23, fontFamily: FONT, fill: AX, align: 'center', verticalAlign: 'middle'}});

const chart = echarts.init(document.getElementById('c'), null, {renderer: 'canvas'});
chart.setOption({
  backgroundColor: '#ffffff',
  animation: false,
  grid: grids,
  xAxis: xAxes,
  yAxis: yAxes,
  series: series,
  graphic: graphics
});
</script>
</body></html>
